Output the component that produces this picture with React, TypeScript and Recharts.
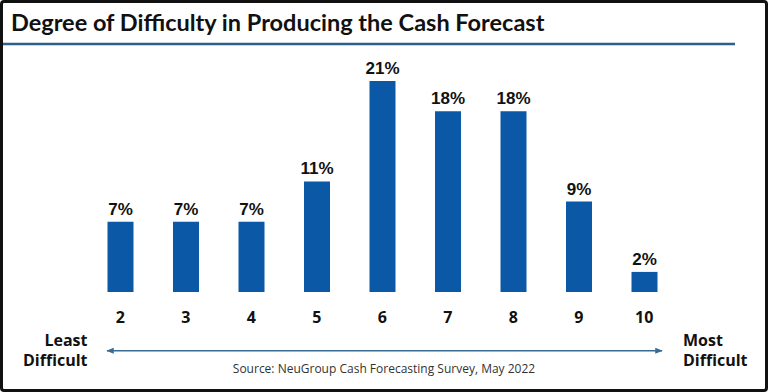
import React from 'react';
import { BarChart, Bar, XAxis, YAxis, LabelList } from 'recharts';

// difficulty rating (x axis)
const ratings = ['2', '3', '4', '5', '6', '7', '8', '9', '10'];
// share of respondents, percent
const shares = [7, 7, 7, 11, 21, 18, 18, 9, 2];

const title = 'Degree of Difficulty in Producing the Cash Forecast';
const source = 'Source: NeuGroup Cash Forecasting Survey, May 2022';

export default function App() {
  const data = ratings.map((r, i) => ({ rating: r, share: shares[i] }));

  return (
    <div
      style={{
        position: 'absolute',
        left: 0,
        top: 0,
        width: 768,
        height: 392,
        background: '#fff',
        border: '3px solid #111',
        borderRadius: 4,
        boxSizing: 'border-box',
        overflow: 'hidden',
      }}
    >
      {/* layer in page coordinates (undo the border offset) */}
      <div style={{ position: 'absolute', left: -3, top: -3, width: 768, height: 392 }}>
        <BarChart
          width={768}
          height={392}
          data={data}
          margin={{ top: 81, right: 91, bottom: 70, left: 87.5 }}
        >
          <XAxis
            dataKey="rating"
            axisLine={false}
            tickLine={false}
            tickSize={0}
            tickMargin={20}
            height={30}
            tick={{ fill: '#111', fontSize: 16, fontWeight: 700, fontFamily: '"Open Sans", sans-serif' }}
          />
          <YAxis hide domain={[0, 21]} />
          <Bar dataKey="share" fill="#0b59a6" barSize={26} isAnimationActive={false}>
            <LabelList
              dataKey="share"
              position="top"
              offset={7}
              formatter={(v: number) => `${v}%`}
              style={{ fill: '#111', fontSize: 17, fontWeight: 700, fontFamily: '"Liberation Sans", Arial, sans-serif' }}
            />
          </Bar>
        </BarChart>

        <svg
          width={768}
          height={392}
          style={{ position: 'absolute', left: 0, top: 0, pointerEvents: 'none' }}
        >
          <defs>
            <marker id="ah" viewBox="0 0 10 10" refX="9" refY="5" markerWidth="5" markerHeight="5" orient="auto-start-reverse">
              <path d="M0,1 L10,5 L0,9 z" fill="#3a6b93" />
            </marker>
          </defs>
          <text x={11} y={31} fontFamily="Lato, sans-serif" fontWeight={700} fontSize={23.5} fill="#111">
            {title}
          </text>
          <line x1={3} x2={735} y1={44} y2={44} stroke="#2e5f8a" strokeWidth={2.5} />

          <g fontFamily='"Open Sans", sans-serif' fontWeight={700} fontSize={16} fill="#111">
            <text x={87.5} y={345.7} textAnchor="end">Least</text>
            <text x={87.5} y={365.7} textAnchor="end">Difficult</text>
            <text x={683} y={345.7}>Most</text>
            <text x={683} y={365.7}>Difficult</text>
          </g>
          <line
            x1={107}
            x2={662}
            y1={350.7}
            y2={350.7}
            stroke="#3a6b93"
            strokeWidth={1.5}
            markerStart="url(#ah)"
            markerEnd="url(#ah)"
          />
          <text x={384} y={373.3} textAnchor="middle" fontFamily='"Open Sans", sans-serif' fontSize={12} fill="#333">
            {source}
          </text>
        </svg>
      </div>
    </div>
  );
}
